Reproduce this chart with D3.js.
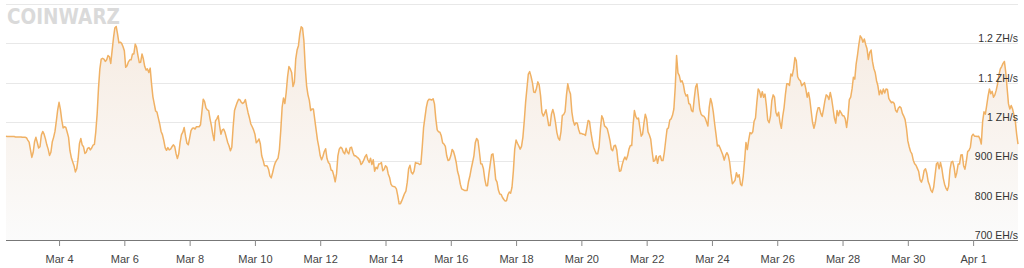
<!DOCTYPE html>
<html>
<head>
<meta charset="utf-8">
<script src="https://cdn.jsdelivr.net/npm/d3@7"></script>
<style>
  html, body { margin: 0; padding: 0; background: #ffffff; }
  svg { display: block; }
</style>
</head>
<body>
<svg id="chart" width="1024" height="268"></svg>
<script>
// ---- data ----
const startTime = "2025-03-02T09:00:00Z"; // first hourly sample
const hashrateEH = [
964,963,963,963,963,963,963,962,962,962,962,962,961,961,961,960,
954,949,929,910,923,950,961,948,934,937,967,976,969,957,
942,931,915,923,949,961,976,1002,1031,1050,1032,1005,985,988,986,974,961,927,910,899,
889,873,881,906,945,958,942,937,920,923,933,935,929,934,941,943,975,1020,1086,1135,
1160,1162,1160,1154,1158,1169,1166,1149,1181,1213,1239,1243,1224,1201,1203,1200,1192,1181,1139,1143,1153,1158,
1158,1173,1173,1198,1190,1169,1151,1152,1173,1160,1141,1132,1135,1126,1137,1097,1064,1046,1028,1025,
1010,995,976,968,953,935,928,935,929,931,937,942,938,920,907,919,948,968,974,986,
964,946,942,959,978,984,985,982,988,988,988,993,1025,1058,1052,1036,1031,1029,1008,991,
969,953,1003,1008,1016,991,969,980,982,974,961,948,939,927,936,988,1029,1040,1050,1058,
1056,1050,1047,1050,1057,1039,1023,1010,995,988,980,969,
947,951,957,944,914,903,889,889,888,880,863,858,871,886,897,903,908,930,978,1037,
1061,1047,1075,1115,1141,1135,1126,1090,1101,1160,1183,1194,1224,1242,1239,1207,1139,1092,1069,1055,
1029,1033,1033,1006,980,954,936,914,904,913,925,932,907,897,893,878,876,864,848,868,
914,931,936,933,923,919,933,923,919,934,936,923,914,914,911,908,904,892,896,903,
912,917,904,897,908,892,904,875,885,881,893,
894,897,876,880,889,885,868,859,842,837,836,835,830,813,792,792,800,809,818,824,
847,881,890,872,868,875,897,895,895,892,893,936,986,1012,1037,1053,1058,1057,1056,1059,
1046,1008,980,975,974,965,947,944,938,914,902,904,914,930,925,913,897,874,862,842,
830,828,826,826,826,848,862,881,897,914,947,958,953,925,894,893,881,855,838,838,
868,893,917,919,891,854,847,827,817,816,808,803,
799,800,815,822,819,834,875,931,954,946,939,931,938,961,1002,1050,1086,1122,1128,1116,
1100,1076,1075,1086,1102,1094,1067,1024,1015,1022,1031,1012,991,991,1020,1032,1019,998,973,959,
954,975,1017,1019,1026,1067,1097,1081,1071,1026,1003,992,998,997,981,971,971,969,969,966,
985,1004,1001,974,953,936,927,919,919,937,982,1016,1008,990,987,983,969,953,931,927,
939,941,929,897,875,876,891,903,911,904,914,931,
940,940,991,1029,1014,1008,1010,986,964,969,997,1020,1008,975,967,956,925,900,902,914,
895,912,914,902,902,923,953,982,985,1005,1008,1017,1033,1088,1169,1125,1118,1102,1105,1095,
1075,1066,1069,1047,1045,1029,1026,1060,1089,1097,1067,1033,1020,1016,1015,1010,1000,990,1037,1060,
1047,1025,995,968,939,941,934,925,916,903,915,922,915,898,868,843,847,852,871,860,
866,842,838,862,902,948,930,954,973,970,975,1002,
1010,1050,1084,1078,1063,1077,1063,1071,1042,1005,998,1014,1054,1069,1063,1025,1015,1025,999,984,
1014,1036,1070,1097,1097,1093,1122,1117,1135,1164,1156,1115,1108,1105,1092,1096,1100,1084,1063,1075,
1056,1026,998,984,998,1022,1036,1036,1022,1014,1032,1053,1069,1066,1057,1075,1059,1035,1010,997,
1029,1016,1029,1023,1016,1016,1008,986,1014,1057,1063,1084,1114,1109,1147,1170,1197,1219,1214,1203,
1211,1197,1186,1159,1177,1183,1154,1136,1126,1105,1092,1069,
1081,1071,1084,1074,1084,1083,1060,1054,1049,1051,1047,1030,1025,1035,1039,1036,1022,1015,1006,984,
952,937,925,919,903,894,890,882,874,853,847,857,877,881,869,848,839,826,821,834,
864,893,897,881,897,882,858,842,832,826,837,879,898,900,885,859,871,893,893,916,
917,889,880,900,925,928,936,964,969,964,964,963,964,957,944,1001,1026,1020,1042,1066,
1084,1072,1078,1063,1069,1081,1097,1120,1135,1141,1149,1154,1126,1086,1046,1033,1042,1033,1018,1003,969,944
];
const xTickDates = ["2025-03-04","2025-03-06","2025-03-08","2025-03-10","2025-03-12","2025-03-14",
  "2025-03-16","2025-03-18","2025-03-20","2025-03-22","2025-03-24","2025-03-26","2025-03-28",
  "2025-03-30","2025-04-01"];
const yTickValues = [700, 800, 900, 1000, 1100, 1200, 1300];
const yTickLabels = ["700 EH/s", "800 EH/s", "900 EH/s", "1 ZH/s", "1.1 ZH/s", "1.2 ZH/s", ""];
const yDomain = [700, 1300];

// ---- build ----
(function () {
const t0 = new Date(startTime);
const data = hashrateEH.map((v, i) => ({ t: d3.utcHour.offset(t0, i), v }));

const mLeft = 6, mRight = 1018, mTop = 4, mBottom = 240;

const svg = d3.select("#chart");

const x = d3.scaleUtc()
  .domain([data[0].t, data[data.length - 1].t])
  .range([mLeft, mRight]);
const y = d3.scaleLinear().domain(yDomain).range([mBottom, mTop]);

// gradient
const defs = svg.append("defs");
const grad = defs.append("linearGradient")
  .attr("id", "areaGrad").attr("gradientUnits", "userSpaceOnUse")
  .attr("x1", 0).attr("x2", 0).attr("y1", mTop).attr("y2", mBottom);
grad.append("stop").attr("offset", "0%").attr("stop-color", "#f6eadf");
grad.append("stop").attr("offset", "100%").attr("stop-color", "#fbfbfb");

// logo
svg.append("text")
  .attr("x", 7).attr("y", 24)
  .attr("textLength", 113).attr("lengthAdjust", "spacingAndGlyphs")
  .style("font-family", "'DejaVu Sans', sans-serif")
  .style("font-weight", "bold")
  .style("font-size", "21px")
  .style("fill", "#dadada")
  .text("COINWARZ");

// gridlines
svg.append("g").selectAll("line")
  .data(yTickValues.filter(v => v > yDomain[0]))
  .join("line")
  .attr("x1", mLeft).attr("x2", mRight)
  .attr("y1", d => Math.round(y(d)) + 0.5).attr("y2", d => Math.round(y(d)) + 0.5)
  .attr("stroke", "#e8e8e8").attr("stroke-width", 1);

// area
const area = d3.area()
  .x(d => x(d.t)).y0(mBottom).y1(d => y(d.v));
svg.append("path").datum(data)
  .attr("d", area)
  .attr("fill", "url(#areaGrad)");

// line
const line = d3.line().x(d => x(d.t)).y(d => y(d.v));
svg.append("path").datum(data)
  .attr("d", line)
  .attr("fill", "none")
  .attr("stroke", "#f0b164")
  .attr("stroke-width", 1.5)
  .attr("stroke-linejoin", "round");

// x axis
const xAxis = d3.axisBottom(x)
  .tickValues(xTickDates.map(s => new Date(s + "T00:00:00Z")))
  .tickFormat(d3.utcFormat("%b %-d"))
  .tickSize(6).tickSizeOuter(0);
const gx = svg.append("g").attr("transform", `translate(0,${mBottom})`).call(xAxis);
gx.select(".domain").attr("stroke", "#777").attr("d", `M${mLeft},0.5H${mRight}`);
gx.selectAll(".tick line").attr("stroke", "#888");
gx.selectAll(".tick text")
  .attr("dy", "1.25em")
  .style("font-family", "'Liberation Sans', Arial, sans-serif")
  .style("font-size", "11px")
  .style("fill", "#444");

// y labels (right side, just above gridlines)
svg.append("g").selectAll("text")
  .data(yTickValues.map((v, i) => ({ v, label: yTickLabels[i] })).filter(d => d.label))
  .join("text")
  .attr("x", mRight)
  .attr("y", d => y(d.v) - 1)
  .attr("text-anchor", "end")
  .style("font-family", "'Liberation Sans', Arial, sans-serif")
  .style("font-size", "10.5px")
  .style("fill", "#333")
  .text(d => d.label);
})();
</script>
</body>
</html>
